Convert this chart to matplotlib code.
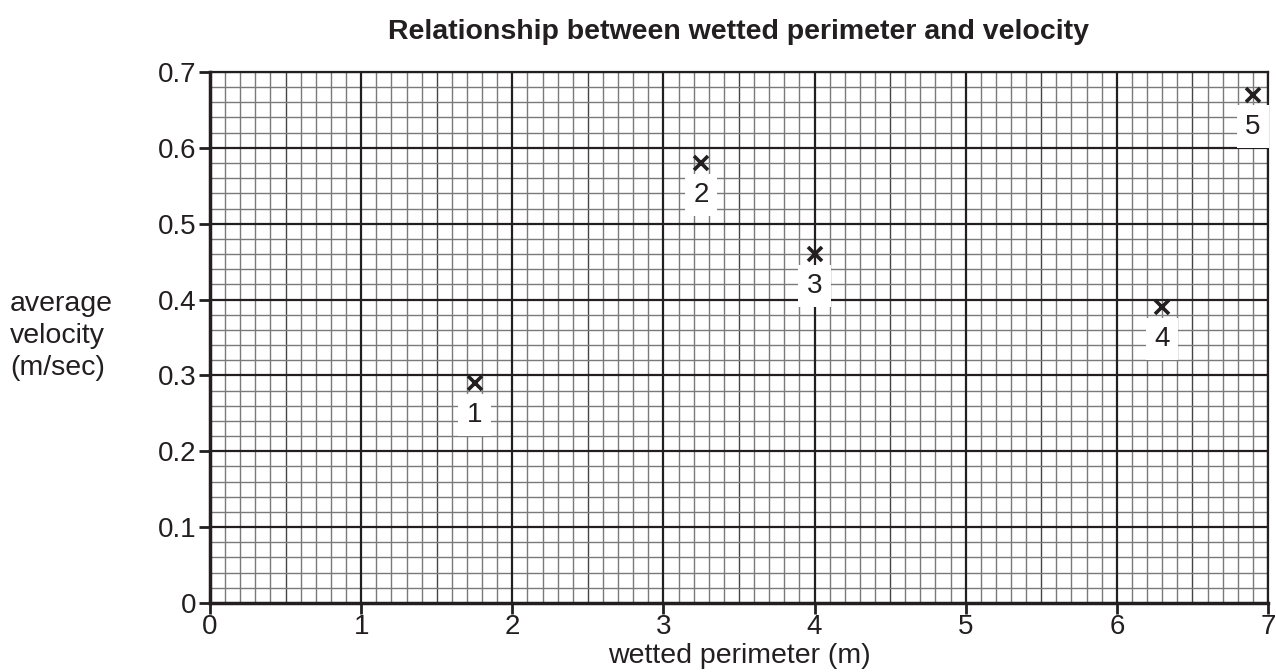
import numpy as np
import matplotlib.pyplot as plt

plt.rcParams['font.family'] = ['Liberation Sans', 'DejaVu Sans']

# Dados
perimetro = [1.75, 3.25, 4.0, 6.3, 6.9]          # wetted perimeter (m)
velocidade = [0.29, 0.58, 0.46, 0.39, 0.67]      # average velocity (m/sec)
rotulos = ['1', '2', '3', '4', '5']

fig = plt.figure(figsize=(12.76, 6.72), dpi=100)
ax = fig.add_axes([0.1646, 0.1027, 0.8291, 0.7902])

ax.set_xlim(0, 7)
ax.set_ylim(0, 0.7)

# Papel milimetrado
for xv in np.arange(0, 7.01, 0.1):
    if abs(xv - round(xv)) < 1e-6:
        continue
    c = '#444444' if abs(xv * 2 - round(xv * 2)) < 1e-6 else '#7a7a7a'
    ax.axvline(xv, color=c, lw=1.0, zorder=1)
for yv in np.arange(0, 0.701, 0.02):
    if abs(yv * 10 - round(yv * 10)) < 1e-6:
        continue
    ax.axhline(yv, color='#7a7a7a', lw=1.0, zorder=1)
for xv in range(1, 8):
    ax.axvline(xv, color='#231f20', lw=1.6, zorder=2)
for yv in np.arange(0.1, 0.71, 0.1):
    ax.axhline(yv, color='#231f20', lw=1.6, zorder=2)

for s in ['left', 'bottom']:
    ax.spines[s].set_linewidth(2.5)
    ax.spines[s].set_color('#231f20')
for s in ['top', 'right']:
    ax.spines[s].set_linewidth(1.6)
    ax.spines[s].set_color('#231f20')

ax.set_xticks(range(0, 8))
ax.set_yticks(np.arange(0, 0.71, 0.1))
ax.set_yticklabels(['0', '0.1', '0.2', '0.3', '0.4', '0.5', '0.6', '0.7'])
ax.tick_params(direction='out', length=8, width=2, labelsize=20, colors='#231f20', pad=2)
ax.tick_params(axis='x', pad=0)

# Pontos e rótulos
ax.plot(perimetro, velocidade, 'x', color='#231f20', ms=10, mew=2.6, zorder=5)
for px, py, r in zip(perimetro, velocidade, rotulos):
    ax.annotate(r, (px, py), xytext=(0, -23), textcoords='offset points',
                ha='center', va='center', fontsize=20, color='#231f20', zorder=6,
                bbox=dict(boxstyle='square,pad=0.3', fc='white', ec='none'))

ax.set_title('Relationship between wetted perimeter and velocity', fontsize=20.5,
             fontweight='bold', color='#231f20', pad=24)
ax.set_xlabel('wetted perimeter (m)', fontsize=20.5, color='#231f20', labelpad=2)
fig.text(0.008, 0.5, 'average\nvelocity\n(m/sec)', ha='left', va='center',
         fontsize=20.5, color='#231f20', linespacing=1.3)

plt.savefig('out.png', dpi=100)
